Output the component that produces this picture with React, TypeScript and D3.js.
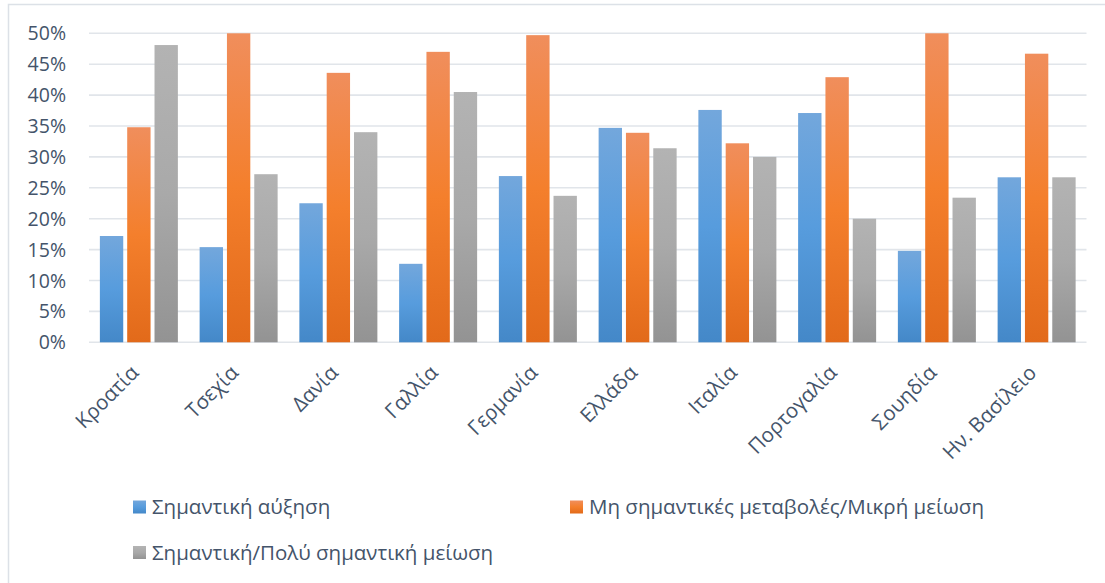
import React from "react";
import * as d3 from "d3";

// Countries on the x axis
const countries = [
  "Κροατία",
  "Τσεχία",
  "Δανία",
  "Γαλλία",
  "Γερμανία",
  "Ελλάδα",
  "Ιταλία",
  "Πορτογαλία",
  "Σουηδία",
  "Ην. Βασίλειο",
];

// Series names (legend)
const seriesNames = [
  "Σημαντική αύξηση",
  "Μη σημαντικές μεταβολές/Μικρή μείωση",
  "Σημαντική/Πολύ σημαντική μείωση",
];

// Shares (%) per country, one array per series
const increase = [17.2, 15.4, 22.5, 12.7, 26.9, 34.7, 37.6, 37.1, 14.8, 26.7];
const smallChange = [34.8, 50.0, 43.6, 47.0, 49.7, 33.9, 32.2, 42.9, 50.0, 46.7];
const decrease = [48.1, 27.2, 34.0, 40.5, 23.7, 31.4, 30.0, 20.0, 23.4, 26.7];

const yTicks = [0, 5, 10, 15, 20, 25, 30, 35, 40, 45, 50];

const W = 1105;
const H = 583;
const FONT = "'Open Sans', 'Noto Sans', sans-serif";
const TEXT = "#44546A";

const gradients = [
  { id: "g-blue", stops: ["#73A7DC", "#579CDD", "#4488C8"] },
  { id: "g-orange", stops: ["#F08E5C", "#F47F2C", "#E26A1A"] },
  { id: "g-gray", stops: ["#B3B3B3", "#A9A9A9", "#939393"] },
];

export default function App() {
  const series = [increase, smallChange, decrease];
  const margin = { left: 89, right: 1086.5, top: 33.3, bottom: 342.3 };

  const x0 = d3
    .scaleBand<string>()
    .domain(countries)
    .range([margin.left, margin.right])
    .paddingInner(0.218)
    .paddingOuter(0.109);

  const x1 = d3
    .scaleBand<number>()
    .domain([0, 1, 2])
    .range([0, x0.bandwidth()])
    .paddingInner(0.145)
    .paddingOuter(0);

  const y = d3.scaleLinear().domain([0, 50]).range([margin.bottom, margin.top]);
  const fmt = (v: number) => `${v}%`;

  const legendItems = [
    { i: 0, x: 133, cy: 507 },
    { i: 1, x: 570, cy: 507 },
    { i: 2, x: 133, cy: 552.5 },
  ];

  return (
    <svg
      width={W}
      height={H}
      style={{ position: "absolute", left: 0, top: 0, background: "#fff" }}
      fontFamily={FONT}
    >
      <defs>
        {gradients.map((g) => (
          <linearGradient key={g.id} id={g.id} x1="0" y1="0" x2="0" y2="1">
            <stop offset="0%" stopColor={g.stops[0]} />
            <stop offset="50%" stopColor={g.stops[1]} />
            <stop offset="100%" stopColor={g.stops[2]} />
          </linearGradient>
        ))}
      </defs>

      {/* chart frame */}
      <rect x={8.5} y={4.5} width={1110} height={600} fill="none" stroke="#DCE1E7" strokeWidth={1.5} />

      {/* gridlines */}
      {yTicks.map((t) => (
        <line
          key={t}
          x1={margin.left}
          x2={margin.right}
          y1={y(t)}
          y2={y(t)}
          stroke="#E1E5EA"
          strokeWidth={1.6}
        />
      ))}

      {/* y tick labels */}
      {yTicks.map((t) => (
        <text
          key={t}
          x={66}
          y={y(t)}
          dy="0.36em"
          textAnchor="end"
          fontSize={19.5}
          fill={TEXT}
        >
          {fmt(t)}
        </text>
      ))}

      {/* bars */}
      {countries.map((c, ci) => (
        <g key={c} transform={`translate(${x0(c)},0)`}>
          {series.map((vals, si) => (
            <rect
              key={si}
              x={x1(si)}
              y={y(vals[ci])}
              width={x1.bandwidth()}
              height={y(0) - y(vals[ci])}
              fill={`url(#${gradients[si].id})`}
            />
          ))}
        </g>
      ))}

      {/* category labels */}
      {countries.map((c) => {
        const cx = (x0(c) ?? 0) + x0.bandwidth() / 2;
        return (
          <text
            key={c}
            transform={`translate(${cx + 1},${374}) rotate(-45)`}
            textAnchor="end"
            fontSize={20.5}
            fill={TEXT}
          >
            {c}
          </text>
        );
      })}

      {/* legend */}
      {legendItems.map(({ i, x, cy }) => (
        <g key={i}>
          <rect x={x} y={cy - 6.5} width={13} height={13} fill={`url(#${gradients[i].id})`} />
          <text x={x + 19} y={cy} dy="0.36em" fontSize={20.5} fill={TEXT}>
            {seriesNames[i]}
          </text>
        </g>
      ))}
    </svg>
  );
}
